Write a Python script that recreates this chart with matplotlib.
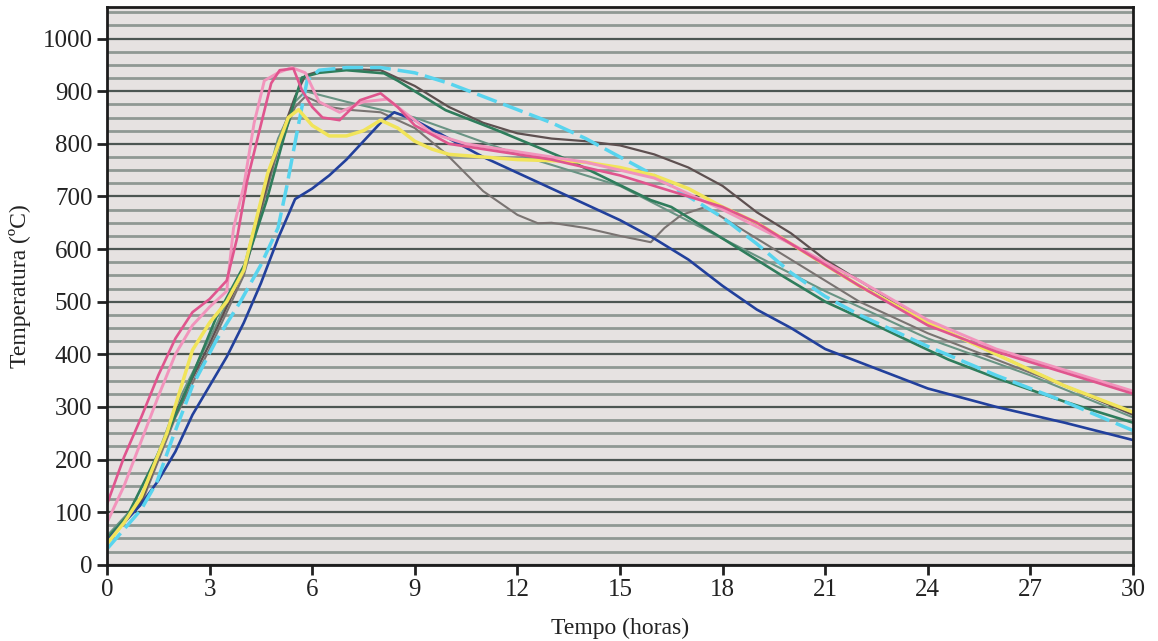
import matplotlib.pyplot as plt
from matplotlib.ticker import MultipleLocator

# time (hours) and temperature (C)
rosa_h = [0, 0.5, 1, 1.5, 2, 2.5, 3, 3.5, 3.8, 4.1, 4.4, 4.8, 5.05, 5.45, 5.7, 6.0, 6.3, 6.8, 7.4, 8.0, 8.5, 9, 10, 11, 12, 13, 15, 17, 18, 19, 21, 22, 24, 26, 28, 30]
rosa_t = [115, 205, 280, 360, 430, 480, 505, 540, 620, 730, 810, 915, 940, 943, 902, 870, 850, 845, 883, 896, 870, 835, 800, 790, 780, 770, 740, 700, 680, 650, 570, 530, 455, 405, 365, 325]

rosa2_h = [0, 0.5, 1, 1.5, 2, 2.5, 3, 3.5, 3.7, 4.0, 4.3, 4.6, 5.0, 5.4, 5.8, 6.2, 6.8, 7.5, 8.2, 8.8, 9.5, 10.5, 12, 14, 16, 18, 20, 22, 24, 26, 28, 30]
rosa2_t = [80, 150, 235, 320, 400, 455, 490, 520, 640, 720, 839, 920, 935, 945, 935, 880, 860, 880, 885, 855, 820, 800, 785, 765, 735, 675, 610, 540, 465, 410, 370, 330]

amarelo_h = [0, 0.5, 1, 1.75, 2.5, 3, 3.5, 4, 4.7, 5.3, 5.6, 6.0, 6.5, 7.0, 7.5, 8.0, 8.5, 9, 9.5, 10, 11, 12, 13, 14, 15, 16, 17, 18, 19, 20, 21, 22, 24, 26, 28, 30]
amarelo_t = [40, 80, 129, 250, 408, 460, 500, 560, 744, 850, 865, 835, 815, 815, 825, 845, 830, 805, 790, 780, 775, 770, 768, 765, 755, 740, 715, 680, 650, 610, 570, 530, 460, 400, 340, 290]

ciano_h = [0, 0.4, 1, 1.45, 1.93, 2.5, 3.2, 3.9, 4.5, 5.0, 5.26, 5.55, 5.85, 6.2, 7, 8, 9, 10, 11, 12, 13, 14, 15, 16, 17, 18, 19, 20, 21, 22, 23, 24, 26, 28, 30]
ciano_t = [30, 60, 105, 156, 243, 340, 427, 500, 570, 640, 720, 820, 920, 940, 945, 945, 935, 915, 890, 865, 840, 810, 775, 740, 700, 660, 610, 555, 510, 475, 445, 415, 360, 310, 255]

azul_h = [0, 0.5, 1, 1.5, 2, 2.5, 3, 3.5, 4, 4.5, 5, 5.5, 6, 6.5, 7, 7.5, 8, 8.4, 9, 10, 11, 12, 13, 14, 15, 16, 17, 18, 19, 20, 21, 22, 24, 26, 28, 30]
azul_t = [45, 80, 115, 160, 215, 285, 340, 395, 460, 535, 620, 695, 715, 740, 770, 805, 840, 860, 845, 810, 775, 745, 715, 685, 655, 620, 580, 530, 485, 450, 410, 385, 335, 300, 270, 237]

verde_h = [0, 0.58, 1.45, 2.2, 3.2, 4.1, 4.67, 5.15, 5.55, 5.7, 6.2, 7, 8.1, 8.5, 9.9, 11.4, 13.5, 15.9, 16.5, 18, 19.8, 21, 22, 24.6, 26, 28, 30]
verde_t = [50, 91, 205, 313, 471, 580, 693, 807, 896, 926, 935, 940, 934, 920, 864, 826, 769, 693, 680, 620, 547, 500, 470, 390, 355, 310, 270]

escuro_h = [0, 1, 2, 3, 4, 4.5, 5, 5.5, 5.8, 6.3, 7, 8, 9, 10, 11, 12, 13, 14, 15, 16, 17, 18, 19, 20, 21, 22, 24, 26, 28, 30]
escuro_t = [45, 120, 290, 420, 560, 680, 800, 890, 930, 940, 942, 940, 910, 870, 840, 820, 810, 805, 797, 780, 755, 720, 670, 630, 580, 540, 460, 400, 340, 285]

cinza_h = [0, 1, 2, 3, 4, 4.5, 5, 5.5, 5.8, 6.5, 7, 8, 9, 9.9, 11, 12, 12.6, 13, 14, 15, 15.9, 16.3, 16.8, 17.5, 18, 19, 20, 21, 22, 24, 26, 28, 30]
cinza_t = [50, 115, 280, 410, 550, 670, 790, 870, 890, 870, 865, 860, 830, 782, 710, 665, 649, 650, 640, 625, 613, 640, 665, 680, 660, 620, 580, 540, 500, 440, 390, 340, 290]

cinzaverde_h = [0, 1, 2, 3, 4, 4.5, 5, 5.5, 5.8, 7, 9, 12, 15, 18, 21, 24, 27, 30]
cinzaverde_t = [55, 125, 300, 430, 565, 690, 810, 880, 900, 880, 850, 780, 720, 620, 520, 430, 360, 280]

plt.rcParams['font.family'] = ['Liberation Serif', 'DejaVu Serif']

fig = plt.figure(figsize=(11.58, 6.41), dpi=100)
ax = fig.add_axes([0.0924, 0.119, 0.886, 0.870])
ax.set_facecolor('#e6e2e1')

# scanned look: dense horizontal stripes every 25 degrees
ax.yaxis.set_major_locator(MultipleLocator(100))
ax.yaxis.set_minor_locator(MultipleLocator(25))
ax.grid(which='major', axis='y', color='#4c5652', linewidth=1.6)
ax.grid(which='minor', axis='y', color='#8f9893', linewidth=2.0)
ax.set_axisbelow(True)

ax.plot(cinzaverde_h, cinzaverde_t, color='#6a9484', lw=1.5)
ax.plot(cinza_h, cinza_t, color='#7a7472', lw=1.5)
ax.plot(escuro_h, escuro_t, color='#5e5050', lw=1.6)
ax.plot(verde_h, verde_t, color='#2f7d5c', lw=1.9)
ax.plot(azul_h, azul_t, color='#22409c', lw=1.9)
ax.plot(ciano_h, ciano_t, color='#58d4ee', lw=2.5, dashes=(6, 2))
ax.plot(amarelo_h, amarelo_t, color='#f1e45a', lw=2.5)
ax.plot(rosa2_h, rosa2_t, color='#f294bc', lw=2.1)
ax.plot(rosa_h, rosa_t, color='#e0558e', lw=1.9)

ax.set_xlim(0, 30)
ax.set_ylim(0, 1060)
ax.set_xticks(range(0, 31, 3))
ax.set_yticks(range(0, 1001, 100))
ax.tick_params(axis='both', which='major', direction='out', length=7, width=2,
               labelsize=18, colors='#222222')
ax.tick_params(axis='y', which='minor', length=0)
for s in ax.spines.values():
    s.set_linewidth(2)
    s.set_color('#1c1c1c')

ax.set_xlabel('Tempo (horas)', fontsize=17, labelpad=12, color='#222222')
ax.set_ylabel('Temperatura (ºC)', fontsize=17, labelpad=8, color='#222222')

fig.savefig('out.png', dpi=100)
